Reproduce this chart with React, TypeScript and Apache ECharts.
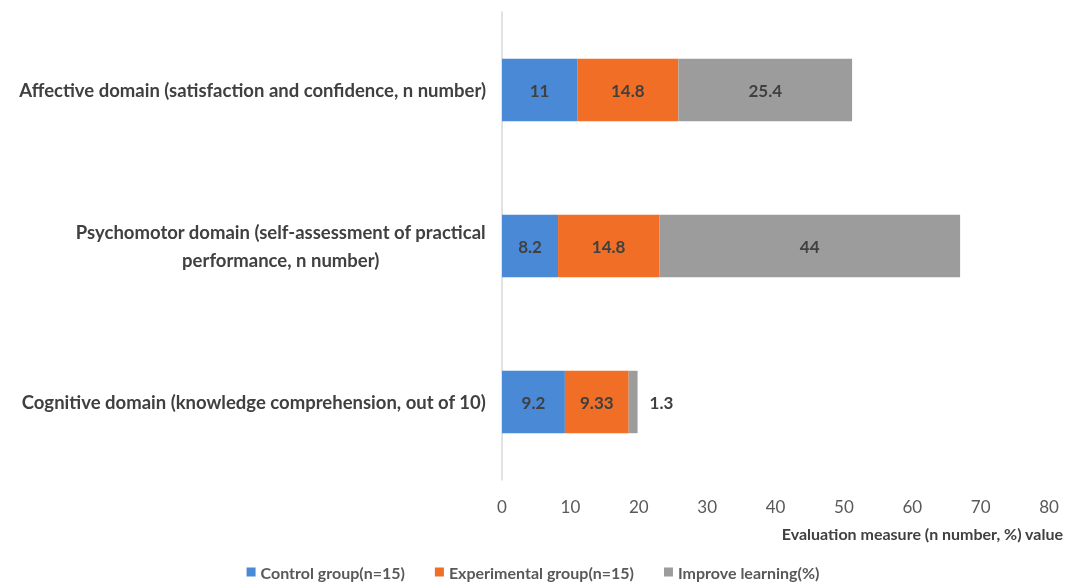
import React, { useEffect, useRef } from "react";
import * as echarts from "echarts";

const categories = [
  "Cognitive domain (knowledge comprehension, out of 10)",
  "Psychomotor domain (self-assessment of practical\nperformance, n number)",
  "Affective domain (satisfaction and confidence, n number)",
];
const seriesNames = ["Control group(n=15)", "Experimental group(n=15)", "Improve learning(%)"];
const controlValues = [9.2, 8.2, 11];
const experimentalValues = [9.33, 14.8, 14.8];
const improveValues = [1.3, 44, 25.4];
const xTicks = { min: 0, max: 80, interval: 10 };
const axisName = "Evaluation measure (n number, %) value";

const colors = ["#4A89D6", "#F06E26", "#9C9C9C"];
const FONT = "Lato, 'Noto Sans', sans-serif";

export default function App() {
  const ref = useRef<HTMLDivElement>(null);
  useEffect(() => {
    document.body.style.margin = "0";
    const chart = echarts.init(ref.current!, null, { renderer: "svg" });
    const labelStyle = {
      show: true,
      position: "inside",
      color: "#404040",
      fontWeight: "bold",
      fontSize: 17,
      fontFamily: FONT,
    };
    const mk = (name: string, data: any[], color: string) => ({
      name,
      type: "bar",
      stack: "total",
      barCategoryGap: "60%",
      data,
      itemStyle: { color },
      label: labelStyle,
    });
    chart.setOption({
      animation: false,
      textStyle: { fontFamily: FONT },
      grid: { left: 502, right: 17, top: 12, bottom: 106, containLabel: false },
      legend: {
        bottom: 1,
        left: "center",
        itemWidth: 9,
        itemHeight: 9,
        itemGap: 30,
        icon: "rect",
        textStyle: { color: "#595959", fontSize: 16, fontWeight: "bold", fontFamily: FONT },
        data: seriesNames,
      },
      xAxis: {
        type: "value",
        min: xTicks.min,
        max: xTicks.max,
        interval: xTicks.interval,
        splitLine: { show: false },
        axisLine: { show: false },
        axisTick: { show: false },
        axisLabel: { color: "#595959", fontSize: 17, margin: 18, fontFamily: FONT },
        name: axisName,
        nameLocation: "end",
        nameGap: 0,
        nameTextStyle: {
          color: "#404040",
          fontSize: 16,
          fontWeight: "bold",
          fontFamily: FONT,
          align: "right",
          verticalAlign: "top",
          padding: [45, -14, 0, 0],
        },
      },
      yAxis: {
        type: "category",
        data: categories,
        axisLine: { show: true, lineStyle: { color: "#D9D9D9", width: 1.5 } },
        axisTick: { show: false },
        axisLabel: {
          margin: 16,
          formatter: (v: string) =>
            v
              .split("\n")
              .map((l) => `{a|${l}}`)
              .join("\n"),
          rich: {
            a: {
              color: "#404040",
              fontSize: 18.5,
              fontWeight: "bold",
              fontFamily: FONT,
              align: "center",
              lineHeight: 28,
            },
          },
        },
      },
      series: [
        mk(seriesNames[0], controlValues, colors[0]),
        mk(seriesNames[1], experimentalValues, colors[1]),
        mk(
          seriesNames[2],
          improveValues.map((v) =>
            v < 5 ? { value: v, label: { position: "right", distance: 12 } } : v
          ),
          colors[2]
        ),
      ],
    });
    return () => chart.dispose();
  }, []);
  return <div ref={ref} style={{ position: "fixed", left: 0, top: 0, width: 1066, height: 586 }} />;
}
